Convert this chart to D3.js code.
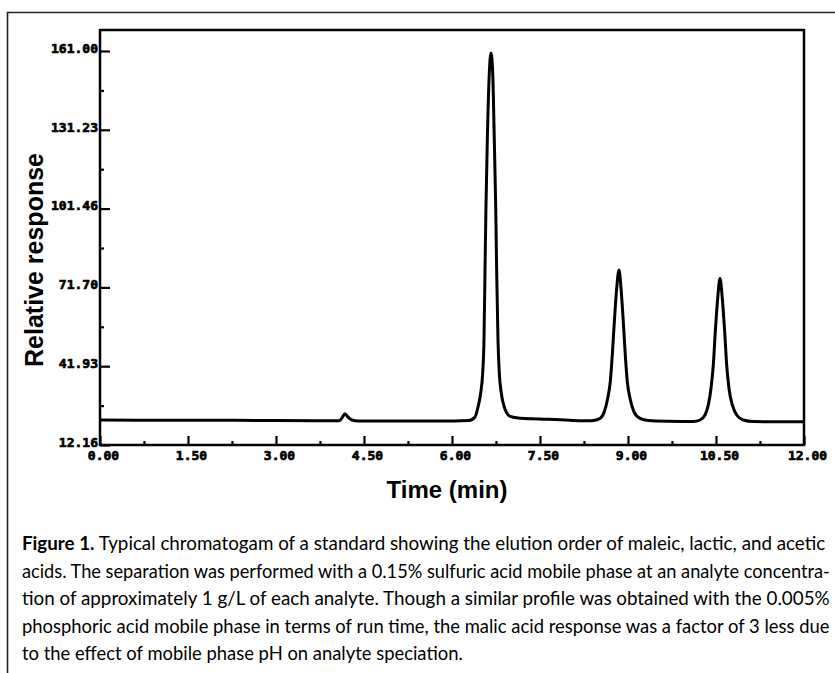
<!DOCTYPE html>
<html>
<head>
<meta charset="utf-8">
<script src="https://cdn.jsdelivr.net/npm/d3@7/dist/d3.min.js"></script>
<style>
  body { margin: 0; background: #fff; }
  svg { display: block; }
</style>
</head>
<body>
<div class="canvas"></div>
<script>
/*--------------------------------
  DATA
--------------------------------*/
// retention time in minutes
const time = [
  0.00, 1.00, 2.00, 3.00, 4.00, 4.074, 4.125, 4.176, 4.227, 4.295, 4.398, 5.00, 5.80,
  6.29, 6.392, 6.443, 6.489, 6.523, 6.545, 6.562, 6.579, 6.602, 6.636, 6.665,
  6.694, 6.721, 6.745, 6.762, 6.784, 6.806, 6.840, 6.891, 6.989, 7.125, 7.50, 8.00, 8.35,
  8.408, 8.523, 8.596, 8.654, 8.698, 8.732, 8.767, 8.807, 8.847,
  8.881, 8.920, 8.954, 8.988, 9.034, 9.102, 9.205, 9.346, 9.70,
  10.113, 10.227, 10.313, 10.369, 10.415, 10.454, 10.488, 10.529, 10.568,
  10.607, 10.648, 10.682, 10.721, 10.778, 10.853, 10.965, 11.136, 11.50, 12.00,
];
// detector signal
const response = [
  21.6, 21.5, 21.5, 21.4, 21.3, 21.3, 22.4, 24.0, 22.7, 21.6, 21.2, 21.2, 21.2,
  21.4, 22.7, 26.5, 31.8, 39.4, 51.8, 77.1, 102.1, 127.4, 152.7, 160.2,
  152.7, 127.4, 102.1, 77.1, 51.8, 39.4, 31.8, 26.5, 23.0, 22.4, 22.0, 21.5, 21.3,
  21.4, 22.2, 24.7, 29.8, 36.1, 46.1, 58.7, 71.3, 78.3,
  71.3, 58.7, 46.1, 36.1, 29.8, 24.7, 22.2, 21.4, 21.1,
  21.0, 21.6, 23.5, 27.3, 33.6, 42.4, 54.9, 67.6, 75.1,
  67.6, 54.9, 42.4, 33.6, 27.3, 23.5, 21.6, 21.0, 20.9, 20.9,
];

const xTicks = [0, 1.5, 3, 4.5, 6, 7.5, 9, 10.5, 12];
const yTicks = [12.16, 41.93, 71.70, 101.46, 131.23, 161.00];

const xTitle = 'Time (min)';
const yTitle = 'Relative response';

const captionLead = 'Figure 1.';
const captionLines = [
  ' Typical chromatogam of a standard showing the elution order of maleic, lactic, and acetic',
  'acids. The separation was performed with a 0.15% sulfuric acid mobile phase at an analyte concentra-',
  'tion of approximately 1 g/L of each analyte. Though a similar profile was obtained with the 0.005%',
  'phosphoric acid mobile phase in terms of run time, the malic acid response was a factor of 3 less due',
  'to the effect of mobile phase pH on analyte speciation.',
];

/*--------------------------------
  SETUP
--------------------------------*/
const width = 835;
const height = 673;

const svg = d3.select('.canvas')
  .append('svg')
  .attr('width', width)
  .attr('height', height);

// outer figure box (top + left edges only, rest is cropped)
svg.append('path')
  .attr('d', `M7.5,${height} V12.5 H${width}`)
  .attr('fill', 'none')
  .attr('stroke', '#222')
  .attr('stroke-width', 1.6);

// plot frame
const frame = { left: 100, right: 804, top: 30, bottom: 445 };

const x = d3.scaleLinear()
  .domain([0, 12])
  .range([frame.left, frame.right]);

const y = d3.scaleLinear()
  .domain([12.16, 161.00])
  .range([frame.bottom, 51]);

const tickFont = "'DejaVu Sans Mono', 'Liberation Mono', monospace";

/*--------------------------------
  AXES
--------------------------------*/
const mid = arr => arr.slice(1).map((d, i) => (d + arr[i]) / 2);

// y: major ticks point inward, minor ones are tiny stubs
const yAxis = d3.axisLeft(y)
  .tickValues(yTicks)
  .tickSizeInner(-10)
  .tickSizeOuter(0)
  .tickFormat(d3.format('.2f'));

const yAxisGroup = svg.append('g')
  .attr('transform', `translate(${frame.left}, 0)`)
  .call(yAxis);

yAxisGroup.selectAll('text')
  .attr('x', -2)
  .attr('dy', '0.1em');

svg.append('g')
  .attr('transform', `translate(${frame.left}, 0)`)
  .call(d3.axisLeft(y).tickValues(mid(yTicks)).tickSize(-4).tickFormat(''));

// x
const xAxis = d3.axisBottom(x)
  .tickValues(xTicks)
  .tickSizeInner(-9)
  .tickSizeOuter(0)
  .tickFormat(d3.format('.2f'));

const xAxisGroup = svg.append('g')
  .attr('transform', `translate(0, ${frame.bottom})`)
  .call(xAxis);

xAxisGroup.selectAll('text')
  .attr('x', 3)
  .attr('y', 15)
  .attr('dy', 0);

svg.append('g')
  .attr('transform', `translate(0, ${frame.bottom})`)
  .call(d3.axisBottom(x).tickValues(mid(xTicks)).tickSize(-4).tickFormat(''));

// heavy, blocky labels like the plotter output
svg.selectAll('.tick text')
  .attr('font-family', tickFont)
  .attr('font-weight', 'bold')
  .attr('font-size', 13)
  .attr('fill', '#000')
  .attr('stroke', '#000')
  .attr('stroke-width', 0.7);

svg.selectAll('.domain').remove();
svg.selectAll('.tick line')
  .attr('stroke', '#000')
  .attr('stroke-width', 2.2);

svg.append('rect')
  .attr('x', frame.left)
  .attr('y', frame.top)
  .attr('width', frame.right - frame.left)
  .attr('height', frame.bottom - frame.top)
  .attr('fill', 'none')
  .attr('stroke', '#000')
  .attr('stroke-width', 2.5);

/*--------------------------------
  TRACE
--------------------------------*/
const points = time.map((t, i) => [t, response[i]]);

const line = d3.line()
  .x(d => x(d[0]))
  .y(d => y(d[1]))
  .curve(d3.curveMonotoneX);

svg.append('path')
  .datum(points)
  .attr('d', line)
  .attr('fill', 'none')
  .attr('stroke', '#000')
  .attr('stroke-width', 3)
  .attr('stroke-linejoin', 'round');

/*--------------------------------
  TITLES
--------------------------------*/
svg.append('text')
  .attr('x', 447)
  .attr('y', 498)
  .attr('text-anchor', 'middle')
  .attr('font-family', "'Liberation Sans', Arial, sans-serif")
  .attr('font-weight', 'bold')
  .attr('font-size', 24)
  .text(xTitle);

svg.append('text')
  .attr('transform', 'translate(43, 260) rotate(-90)')
  .attr('text-anchor', 'middle')
  .attr('font-family', "'Liberation Sans', Arial, sans-serif")
  .attr('font-weight', 'bold')
  .attr('font-size', 25)
  .text(yTitle);

/*--------------------------------
  CAPTION
--------------------------------*/
// printed lines are justified in a condensed face: squeeze each line
// horizontally so it ends where it ends in print
const lineEnds = [826, 830, 830, 830, 463];
const captionX = 22;

captionLines.forEach((txt, i) => {
  const t = svg.append('text')
    .attr('x', 0)
    .attr('y', 0)
    .attr('font-family', "Lato, 'Open Sans', sans-serif")
    .attr('font-size', 19.5)
    .attr('fill', '#000');

  if (i === 0) {
    t.append('tspan').attr('font-weight', 'bold').text(captionLead);
  }
  t.append('tspan').text(txt);

  const natural = t.node().getComputedTextLength();
  const k = (lineEnds[i] - captionX) / natural;
  t.attr('transform', `translate(${captionX}, ${550 + i * 27.5}) scale(${k}, 1)`);
});
</script>
</body>
</html>
